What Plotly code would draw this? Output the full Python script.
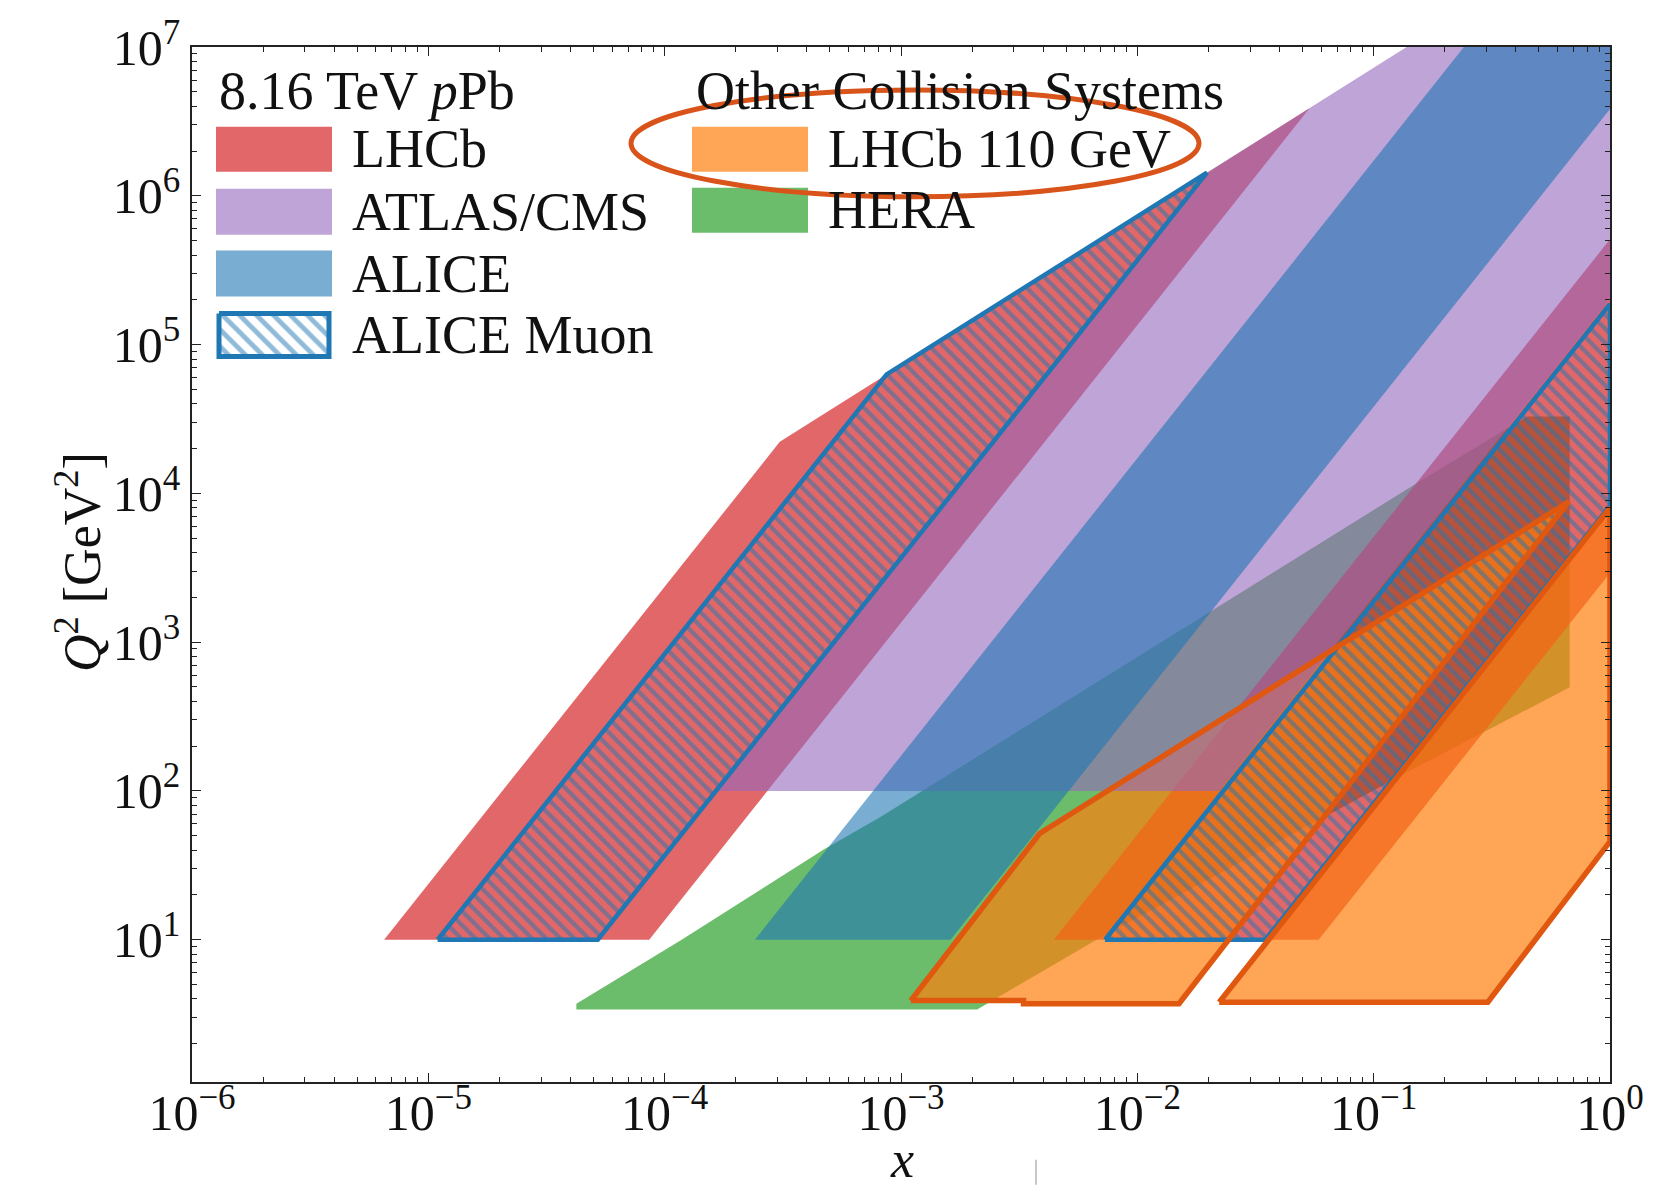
import plotly.graph_objects as go

# ---------------- data (x, Q^2 vertices) ----------------
# LHCb 8.16 TeV pPb (forward / backward)
lhcb_fwd_x = [6.5e-6, 8.6e-5, 0.0535, 3.07e-4]
lhcb_fwd_q2 = [10, 10, 3.87e6, 2.22e4]
lhcb_bwd_x = [4.43e-3, 0.0585, 1.0, 1.0]
lhcb_bwd_q2 = [10, 10, 2.92e3, 5.1e5]
# ATLAS/CMS
atlas_x = [1.62e-4, 0.0222, 1.0, 1.0, 0.0190]
atlas_q2 = [100, 100, 2.03e5, 7.24e7, 1.38e6]
# ALICE
alice_x = [2.41e-4, 1.62e-3, 1.0, 1.0, 0.42]
alice_q2 = [10, 10, 3.83e6, 7.24e7, 3.04e7]
# ALICE Muon (forward / backward)
muon_fwd_x = [1.095e-5, 5.21e-5, 0.0197, 8.69e-4]
muon_fwd_q2 = [10, 10, 1.43e6, 6.3e4]
muon_bwd_x = [7.3e-3, 0.0348, 1.0, 1.0]
muon_bwd_q2 = [10, 10, 8.26e3, 1.875e5]
# HERA
hera_x = [4.23e-5, 4.23e-5, 1.18e-4, 4.73e-4, 8.15e-4, 0.0212, 0.152, 0.445,
          0.675, 0.675, 0.138, 6.72e-3, 2.10e-3]
hera_q2 = [3.4, 3.72, 10, 40.6, 66.6, 1660, 1.17e4, 3.28e4,
           3.28e4, 498, 133, 10, 3.4]
# LHCb 110 GeV (two regions)
lhcb110_a_x = [1.10e-3, 3.86e-3, 0.67, 0.0150, 3.30e-3, 3.30e-3]
lhcb110_a_q2 = [3.9, 51.8, 8.81e3, 3.72, 3.72, 3.9]
lhcb110_b_x = [0.0222, 0.304, 1.0, 1.0]
lhcb110_b_q2 = [3.8, 3.8, 45.7, 8.0e3]

# ticks
x_tick_vals = [1e-6, 1e-5, 1e-4, 1e-3, 1e-2, 1e-1, 1]
x_tick_text = ["10<sup>−6</sup>", "10<sup>−5</sup>", "10<sup>−4</sup>", "10<sup>−3</sup>",
               "10<sup>−2</sup>", "10<sup>−1</sup>", "10<sup>0</sup>"]
y_tick_vals = [1e1, 1e2, 1e3, 1e4, 1e5, 1e6, 1e7]
y_tick_text = ["10<sup>1</sup>", "10<sup>2</sup>", "10<sup>3</sup>", "10<sup>4</sup>",
               "10<sup>5</sup>", "10<sup>6</sup>", "10<sup>7</sup>"]

# legend text
legend_left_title = "8.16 TeV <i>p</i>Pb"
legend_left_labels = ["LHCb", "ATLAS/CMS", "ALICE", "ALICE Muon"]
legend_right_title = "Other Collision Systems"
legend_right_labels = ["LHCb 110 GeV", "HERA"]
x_title = "<i>x</i>"
y_title = "<i>Q</i><sup>2</sup> [GeV<sup>2</sup>]"

# ---------------- styles ----------------
RED = "rgba(214,39,40,0.7)"
PURPLE = "rgba(148,103,189,0.6)"
BLUE = "rgba(31,119,180,0.6)"
GREEN = "rgba(44,160,44,0.7)"
ORANGE = "rgba(255,127,14,0.7)"
ORANGE_EDGE = "#e0570f"
MUON_EDGE = "#1f77b4"
TXT = "#111111"
FONT = "Liberation Serif"

W, H = 1674, 1185
PL, PR, PT, PB = 192, 1610, 45, 1082


def px(X):
    return (X - PL) / (PR - PL)


def py(Y):
    return (PB - Y) / (PB - PT)


fig = go.Figure()


def fill_trace(xs, ys, color):
    fig.add_trace(go.Scatter(x=xs, y=ys, mode="lines", fill="toself", fillcolor=color,
                             line=dict(width=0), hoverinfo="skip", showlegend=False))


def closed(a):
    return list(a) + [a[0]]


# draw order: HERA, LHCb, LHCb 110 fill, ATLAS/CMS, ALICE, ALICE Muon, LHCb 110 outline
fill_trace(hera_x, hera_q2, GREEN)
fill_trace(lhcb_fwd_x, lhcb_fwd_q2, RED)
fill_trace(lhcb_bwd_x, lhcb_bwd_q2, RED)
fill_trace(lhcb110_a_x, lhcb110_a_q2, ORANGE)
fill_trace(lhcb110_b_x, lhcb110_b_q2, ORANGE)
fill_trace(atlas_x, atlas_q2, PURPLE)
fill_trace(alice_x, alice_q2, BLUE)

for mx, mq in [(muon_fwd_x, muon_fwd_q2), (muon_bwd_x, muon_bwd_q2)]:
    fig.add_trace(go.Scatter(
        x=closed(mx), y=closed(mq), mode="lines", fill="toself",
        fillcolor="rgba(0,0,0,0)",
        fillpattern=dict(shape="\\", size=10, solidity=0.42, fgcolor=MUON_EDGE,
                         bgcolor="rgba(0,0,0,0)"),
        line=dict(color=MUON_EDGE, width=4.5), hoverinfo="skip", showlegend=False))

for ox, oq in [(lhcb110_a_x, lhcb110_a_q2), (lhcb110_b_x, lhcb110_b_q2)]:
    fig.add_trace(go.Scatter(x=closed(ox), y=closed(oq), mode="lines",
                             line=dict(color=ORANGE_EDGE, width=5.5),
                             hoverinfo="skip", showlegend=False))

# ---------------- custom legend (overlay axes in plot-fraction units) ----------------
def swatch(X0, X1, Y0, Y1, color, pattern=None, edge=None):
    xs = [px(X0), px(X1), px(X1), px(X0), px(X0)]
    ys = [py(Y0), py(Y0), py(Y1), py(Y1), py(Y0)]
    kw = dict(x=xs, y=ys, mode="lines", fill="toself", fillcolor=color,
              xaxis="x2", yaxis="y2", hoverinfo="skip", showlegend=False)
    if pattern:
        kw["fillpattern"] = pattern
    kw["line"] = dict(color=edge, width=5) if edge else dict(width=0)
    fig.add_trace(go.Scatter(**kw))


left_sw_colors = [RED, PURPLE, BLUE, None]
left_rows_y = [(125, 170), (187, 233), (249, 295), (312, 355)]
for lab, col, (y0, y1) in zip(legend_left_labels, left_sw_colors, left_rows_y):
    if col is None:
        swatch(219, 329, y0, y1, "rgba(255,255,255,1)",
               pattern=dict(shape="\\", size=12, solidity=0.4, fgcolor=MUON_EDGE,
                            bgcolor="white"), edge=MUON_EDGE)
    else:
        swatch(216, 332, y0, y1, col)

right_sw_colors = [ORANGE, GREEN]
right_rows_y = [(125, 170), (186, 231)]
for lab, col, (y0, y1) in zip(legend_right_labels, right_sw_colors, right_rows_y):
    swatch(692, 808, y0, y1, col)

annotations = []


def text(X, Y, s, size=54, anchor="left", angle=0):
    annotations.append(dict(text=s, x=px(X), y=py(Y), xref="paper", yref="paper",
                            xanchor=anchor, yanchor="middle", showarrow=False,
                            textangle=angle, font=dict(family=FONT, size=size, color=TXT)))


text(217, 89, legend_left_title)
for lab, (y0, y1) in zip(legend_left_labels, left_rows_y):
    text(350, (y0 + y1) / 2, lab)
text(694, 89, legend_right_title)
for lab, (y0, y1) in zip(legend_right_labels, right_rows_y):
    text(826, (y0 + y1) / 2, lab)

text(902, 1160, x_title, size=52, anchor="center")
text(78, 561, y_title, size=52, anchor="center", angle=-90)

minor_x = [m * 10.0 ** e for e in range(-6, 0) for m in range(2, 10)]
minor_y = [m * 10.0 ** e for e in range(0, 7) for m in range(2, 10)]

axis_common = dict(type="log", showgrid=False, zeroline=False, showline=True,
                   linecolor="#222222", linewidth=1.5, mirror="allticks",
                   ticks="inside", ticklen=9, tickwidth=1.3, tickcolor="#222222",
                   tickmode="array",
                   tickfont=dict(family=FONT, size=50, color=TXT))

fig.update_layout(
    width=W, height=H, autosize=False,
    margin=dict(l=PL, r=W - PR, t=PT, b=H - PB),
    paper_bgcolor="white", plot_bgcolor="white",
    xaxis=dict(range=[-6, 0], tickvals=x_tick_vals, ticktext=x_tick_text,
               ticklabelstandoff=-14,
               minor=dict(tickmode="array", tickvals=minor_x, ticks="inside", ticklen=5,
                          tickwidth=1, tickcolor="#222222", showgrid=False),
               **axis_common),
    yaxis=dict(range=[0.044, 7], tickvals=y_tick_vals, ticktext=y_tick_text,
               minor=dict(tickmode="array", tickvals=minor_y, ticks="inside", ticklen=5,
                          tickwidth=1, tickcolor="#222222", showgrid=False),
               **axis_common),
    xaxis2=dict(overlaying="x", range=[0, 1], visible=False, fixedrange=True),
    yaxis2=dict(overlaying="y", range=[0, 1], visible=False, fixedrange=True),
    annotations=annotations,
    shapes=[
        dict(type="circle", xref="paper", yref="paper",
             x0=px(631), x1=px(1199), y0=py(195), y1=py(88),
             line=dict(color="#d9541a", width=5), layer="above"),
        dict(type="line", xref="paper", yref="paper",
             x0=px(1036), x1=px(1036), y0=py(1160), y1=py(1185),
             line=dict(color="#c8c8c8", width=2), layer="above"),
    ],
)

fig.write_html("out.html", config={"displayModeBar": False},
               post_script="document.body.style.margin='0px';")
